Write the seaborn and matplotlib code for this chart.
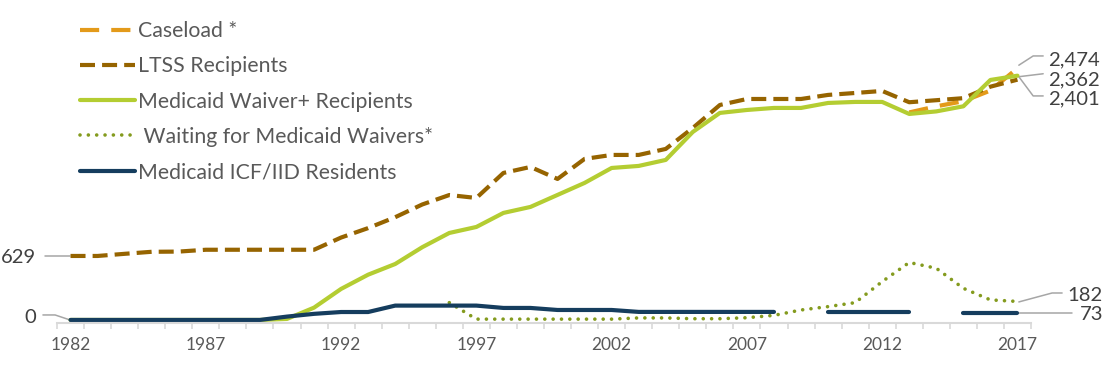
import numpy as np
import matplotlib
matplotlib.use("Agg")
import matplotlib.pyplot as plt
import seaborn as sns

nan = np.nan
years = list(range(1982, 2018))

caseload = [nan] * 31 + [2040, 2100, 2150, 2255, 2474]
ltss = [629, 629, 650, 670, 672, 690, 690, 690, 690, 690,
        810, 903, 1010, 1135, 1228, 1199, 1445, 1504, 1386, 1583,
        1622, 1622, 1681, 1887, 2113, 2172, 2172, 2172, 2212, 2231,
        2251, 2140, 2160, 2180, 2293, 2362]
waiver = [0, 0, 0, 0, 0, 0, 0, 0, 10, 121,
          305, 445, 550, 715, 855, 914, 1052, 1111, 1229, 1347,
          1494, 1514, 1573, 1848, 2035, 2064, 2084, 2084, 2133, 2143,
          2143, 2025, 2050, 2100, 2359, 2401]
waiting = [nan] * 14 + [170, 8, 8, 8, 8, 8, 8, 20, 20, 12,
                        12, 22, 45, 98, 131, 170, 377, 565, 508, 311,
                        197, 182]
icf = [0, 0, 0, 0, 0, 0, 0, 0, 33, 60,
       78, 78, 141, 141, 141, 141, 118, 118, 98, 98,
       98, 79, 79, 79, 79, 79, 79, nan, 79, 79,
       79, 79, nan, 73, 73, 73]

series_names = ["Caseload *", "LTSS Recipients", "Medicaid Waiver+ Recipients",
                " Waiting for Medicaid Waivers*", "Medicaid ICF/IID Residents"]
tick_years = list(range(1982, 2018, 5))

sns.set_theme(style="white")
plt.rcParams['font.family'] = ['Lato', 'DejaVu Sans']

fig = plt.figure(figsize=(11.12, 3.65), dpi=100)
ax = fig.add_axes([57 / 1112, 42 / 365, 974 / 1112, 323 / 365])


def segments(xs, ys):
    out, cur = [], ([], [])
    for x, y in zip(xs, ys):
        if np.isnan(y):
            if cur[0]:
                out.append(cur)
            cur = ([], [])
        else:
            cur[0].append(x)
            cur[1].append(y)
    if cur[0]:
        out.append(cur)
    return out


styles = [
    dict(color="#E39A1A", lw=3.0, linestyle=(0, (4.6, 2.9)), dash_capstyle="butt"),
    dict(color="#966400", lw=3.0, linestyle=(0, (3.6, 1.7)), dash_capstyle="butt"),
    dict(color="#B4CD32", lw=3.0, linestyle="-", solid_capstyle="round"),
    dict(color="#849B1E", lw=2.6, linestyle=(0, (0.01, 2.3)), dash_capstyle="round"),
    dict(color="#153D5E", lw=3.0, linestyle="-", solid_capstyle="round"),
]
all_series = [caseload, ltss, waiver, waiting, icf]

for name, vals, st in zip(series_names, all_series, styles):
    for i, (sx, sy) in enumerate(segments(years, vals)):
        sns.lineplot(x=sx, y=sy, ax=ax, estimator=None, sort=False,
                     label=name if i == 0 else None, **st)

ax.set_xlim(1981.5, 2017.5)
ax.set_ylim(-30, 3145)
ax.set_yticks([])
ax.set_xlabel("")
ax.set_ylabel("")
for s in ["top", "left", "right"]:
    ax.spines[s].set_visible(False)
ax.spines["bottom"].set_color("#d9d9d9")
ax.spines["bottom"].set_linewidth(1.5)
ax.set_xticks(tick_years)
ax.set_xticklabels([str(y) for y in tick_years])
ax.set_xticks(np.arange(1981.5, 2018, 1), minor=True)
ax.tick_params(axis="x", which="major", length=0, pad=10, labelsize=12.5,
               labelcolor="#595959")
ax.tick_params(axis="x", which="minor", length=4, width=1.2, color="#d9d9d9",
               direction="out", bottom=True)

leg = ax.legend(loc="upper left", bbox_to_anchor=(80 / 1112, 1 - 21 / 365),
                bbox_transform=fig.transFigure, frameon=False, fontsize=15.3,
                handlelength=2.6, handletextpad=0.14, labelspacing=0.72,
                borderpad=0, borderaxespad=0)
for t in leg.get_texts():
    t.set_color("#595959")

lc = "#a6a6a6"
tc = "#404040"
fs = 14.6


def leader(xs, ys):
    ax.plot(xs, ys, color=lc, lw=1.1, clip_on=False, zorder=1)


# right-side labels
leader([2017.05, 2017.58, 2017.95], [caseload[-1] + 30, 2595, 2595])
ax.text(2018.12, 2556, "2,474", fontsize=fs, color=tc, va="center", ha="left")
leader([2017.05, 2017.95], [waiver[-1] - 10, 2420])
ax.text(2018.12, 2359, "2,362", fontsize=fs, color=tc, va="center", ha="left")
leader([2017.05, 2017.58, 2017.95], [waiver[-1] - 10, 2202, 2202])
ax.text(2018.12, 2170, "2,401", fontsize=fs, color=tc, va="center", ha="left")
leader([2017.05, 2018.28, 2018.65], [waiting[-1] - 5, 265, 265])
ax.text(2018.83, 236, "182", fontsize=fs, color=tc, va="center", ha="left")
leader([2017.05, 2019.02], [icf[-1] - 4, icf[-1] - 4])
ax.text(2019.3, 49, "73", fontsize=fs, color=tc, va="center", ha="left")

# left-side labels
leader([1981.06, 1981.98], [ltss[0], ltss[0]])
ax.text(1980.72, 609, "629", fontsize=fs, color=tc, va="center", ha="right")
leader([1980.98, 1981.43, 1981.98], [49, 49, icf[0]])
ax.text(1980.72, 20, "0", fontsize=fs, color=tc, va="center", ha="right")

fig.savefig("out.png", dpi=100)
